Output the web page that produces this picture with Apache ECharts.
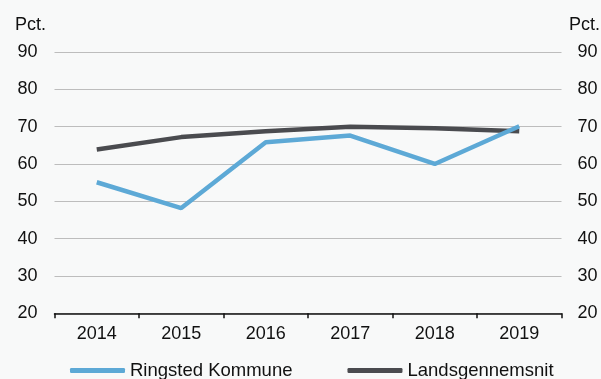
<!DOCTYPE html>
<html>
<head>
<meta charset="utf-8">
<script src="https://cdn.jsdelivr.net/npm/echarts@6/dist/echarts.min.js"></script>
<style>
html,body{margin:0;padding:0;background:#f8f9f9;}
#c{width:601px;height:379px;}
</style>
</head>
<body>
<div id="c"></div>
<script>
const years = ['2014','2015','2016','2017','2018','2019'];
const ringsted = [55.1, 48.2, 65.8, 67.6, 60.0, 70.1];
const landsgennemsnit = [63.9, 67.2, 68.8, 70.0, 69.6, 68.8];
const seriesNames = ['Ringsted Kommune', 'Landsgennemsnit'];
const yMin = 20, yMax = 90, yStep = 10;
const unitLabel = 'Pct.';

const font = '"Liberation Sans", Arial, sans-serif';
const chart = echarts.init(document.getElementById('c'), null, {renderer:'canvas'});
chart.setOption({
  backgroundColor: '#f8f9f9',
  animation: false,
  grid: {left: 54.5, right: 39.5, top: 52, bottom: 65.7, containLabel: false},
  legend: {
    data: seriesNames,
    left: 70, top: 361, padding: 0,
    icon: 'roundRect',
    itemWidth: 55, itemHeight: 5, itemGap: 55,
    textStyle: {fontFamily: font, fontSize: 18.5, color: '#111'}
  },
  graphic: [
    {type:'text', left: 15, top: 16, style:{text: unitLabel, font: '18px ' + font, fill:'#111'}},
    {type:'text', right: 1, top: 16, style:{text: unitLabel, font: '18px ' + font, fill:'#111'}}
  ],
  xAxis: {
    type: 'category', data: years, boundaryGap: true,
    axisLine: {show: true, lineStyle: {color: '#111', width: 1.5}},
    axisTick: {show: true, length: 5, lineStyle: {color: '#111', width: 1.5}},
    axisLabel: {fontFamily: font, fontSize: 18, color: '#111', margin: 12}
  },
  yAxis: [
    {type:'value', min: yMin, max: yMax, interval: yStep, position:'left',
     axisLine:{show:false}, axisTick:{show:false},
     axisLabel:{fontFamily: font, fontSize: 18, color:'#111', margin: 17},
     splitLine:{lineStyle:{color:'#bdbdbd', width:1}}},
    {type:'value', min: yMin, max: yMax, interval: yStep, position:'right',
     axisLine:{show:false}, axisTick:{show:false},
     axisLabel:{fontFamily: font, fontSize: 18, color:'#111', margin: 16},
     splitLine:{show:false}}
  ],
  series: [
    {name: seriesNames[0], type:'line', data: ringsted, showSymbol:false, symbol:'none',
     lineStyle:{color:'#5da9d6', width:4.5}, itemStyle:{color:'#5da9d6'}, z: 3},
    {name: seriesNames[1], type:'line', data: landsgennemsnit, showSymbol:false, symbol:'none',
     lineStyle:{color:'#4a4b4f', width:4.5}, itemStyle:{color:'#4a4b4f'}, z: 2}
  ]
});
</script>
</body>
</html>
